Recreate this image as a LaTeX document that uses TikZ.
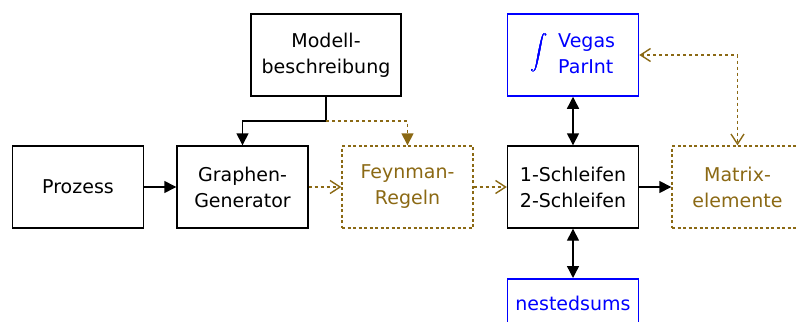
\documentclass[tikz,border=0pt]{standalone}
\usepackage{amsmath}
\usepackage{exscale}
\usepackage{fontspec}
\setmainfont{DejaVu Sans}
\usetikzlibrary{arrows.meta}
\definecolor{brn}{RGB}{139,105,20}
\definecolor{blu}{RGB}{0,0,255}
\tikzset{
  box/.style={draw, line width=1.4pt, minimum width=131pt, minimum height=82pt, inner sep=0pt, align=center, font=\fontsize{19}{26}\selectfont},
  brownbox/.style={box, draw=brn, text=brn, dash pattern=on 3pt off 2.5pt},
  bluebox/.style={box, draw=blu, text=blu, line width=1.5pt},
  solidarrow/.style={line width=1.4pt, -{Triangle[length=12pt,width=12pt]}},
  solidboth/.style={line width=1.4pt, {Triangle[length=12pt,width=12pt]}-{Triangle[length=12pt,width=12pt]}},
  brownopen/.style={line width=1.5pt, brn, dash pattern=on 3pt off 3pt, -{Straight Barb[length=10pt,width=13pt,line width=1.4pt]}},
  brownopenboth/.style={line width=1.5pt, brn, dash pattern=on 3pt off 3pt, {Straight Barb[length=10pt,width=13pt,line width=1.4pt]}-{Straight Barb[length=10pt,width=13pt,line width=1.4pt]}},
  brownfill/.style={line width=1.5pt, brn, dash pattern=on 3pt off 3pt, -{Triangle[length=12pt,width=12pt]}},
}
\begin{document}
\begin{tikzpicture}[x=1pt,y=-1pt]
\useasboundingbox (0,0) rectangle (797,321);
\begin{scope}
\clip (0,0) rectangle (797,321);
\node[box] (prozess) at (78,187) {Prozess};
\node[box] (graphen) at (242.5,187) {Graphen-\\Generator};
\node[brownbox] (feynman) at (407.5,187) {Feynman-\\Regeln};
\node[box] (schleifen) at (573,187) {1-Schleifen\\2-Schleifen};
\node[brownbox] (matrix) at (737.5,187) {Matrix-\\elemente};
\node[box, minimum width=150pt] (modell) at (326,55) {Modell-\\beschreibung};
\node[bluebox] (vegas) at (573,55) {\raisebox{2pt}{\fontsize{17}{20}\selectfont$\pmb{\displaystyle\int}$}\hspace{10pt}\begin{tabular}[c]{@{}l@{}}Vegas\\ParInt\end{tabular}};
\node[bluebox, minimum height=50pt, anchor=north] (nested) at (573,278) {nestedsums};
\coordinate (j) at (326,121);
\draw[solidarrow] (prozess) -- (graphen);
\draw[line width=1.4pt] (modell.south) -- (j);
\draw[solidarrow] (j) -| (graphen.north);
\draw[brownfill] (j) -| (feynman.north);
\draw[brownopen] (graphen) -- (feynman);
\draw[brownopen] (feynman) -- (schleifen);
\draw[solidarrow] (schleifen) -- (matrix);
\draw[solidboth] (vegas) -- (schleifen);
\draw[solidboth] (schleifen) -- (nested);
\draw[brownopenboth] (vegas.east) -| (matrix.north);
\end{scope}
\end{tikzpicture}
\end{document}
